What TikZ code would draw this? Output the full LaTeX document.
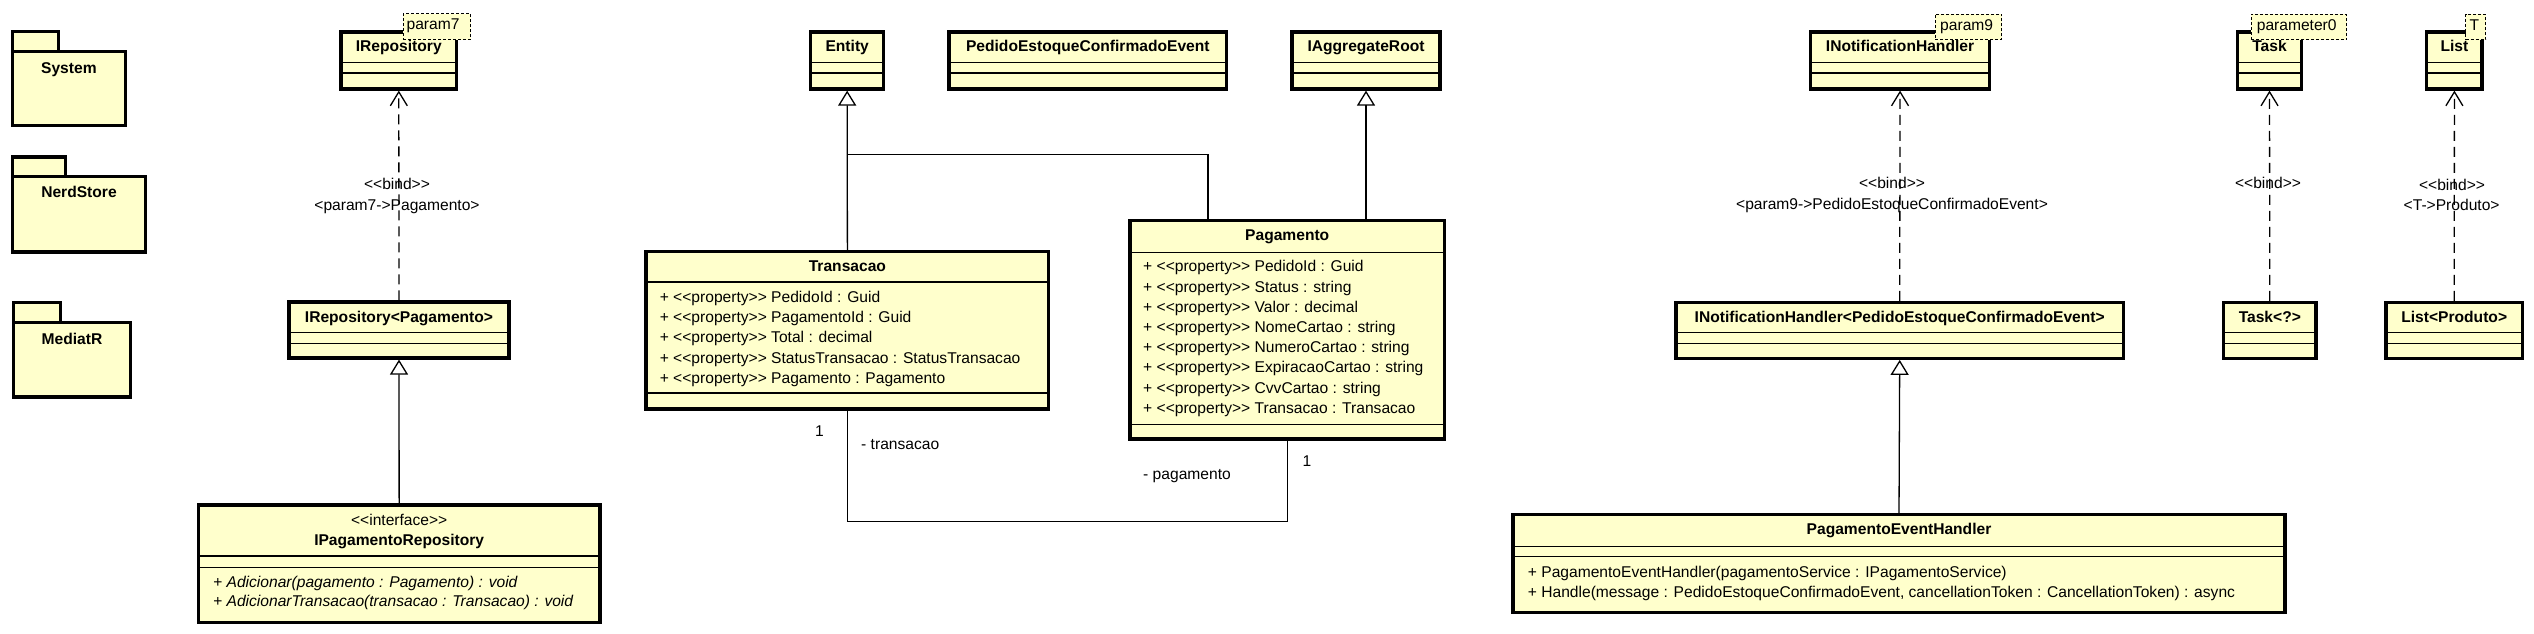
\documentclass[tikz,border=0pt]{standalone}
\usepackage{fontspec}
\setmainfont{Liberation Sans}[Ligatures=TeXOff]
\usetikzlibrary{arrows.meta}
\definecolor{umlfill}{HTML}{FFFFCC}
\newcommand\ucls[5]{%
  \pgfmathsetmacro\ucx{(#2+#4)/2}%
  \pgfmathsetmacro\ucy{(#3+#5)/2}%
  \pgfmathsetmacro\ucw{#4-#2}%
  \pgfmathsetmacro\uch{#5-#3}%
  \node[cbox, minimum width=\ucw pt, minimum height=\uch pt] (#1) at (\ucx,\ucy) {};%
}
\newcommand\usep[3]{\draw[sep] (#1,#3) -- (#2,#3);}
\begin{document}
\begin{tikzpicture}[x=1pt,y=-1pt,
  every node/.style={font=\fontsize{15.6}{18}\selectfont, inner sep=0pt},
  cbox/.style={draw, line width=3.2pt, fill=umlfill},
  sep/.style={line width=1.2pt},
  conn/.style={line width=1.3pt},
  gen/.style={conn, -{Triangle[length=15pt,width=18pt,fill=white,line width=1.3pt]}},
  bindarr/.style={conn, dash pattern=on 10pt off 6pt, -{Straight Barb[length=14pt,width=17pt,line width=1.3pt]}},
  cname/.style={font=\fontsize{15.6}{18}\selectfont\bfseries, anchor=mid},
  attr/.style={anchor=mid west},
  opit/.style={anchor=mid west, font=\fontsize{15.6}{18}\selectfont\itshape},
  lbl/.style={anchor=mid},
  pbox/.style={draw, dash pattern=on 3pt off 2pt, fill=umlfill, line width=1.1pt},
  pkg/.style={draw, line width=3.2pt, fill=umlfill},
]
\useasboundingbox (0,0) rectangle (2534,634);
\fill[white] (0,0) rectangle (2534,634);

% ---------- packages ----------
\draw[pkg] (12.6,31.5) rectangle (58.2,51.8);
\node[pkg, minimum width=112.5pt, minimum height=74pt] (System) at (68.85,88.8) {};
\node[cname] (SystemT) at (68.9,70.4) {System};
\draw[pkg] (12.6,157) rectangle (65.8,176.7);
\node[pkg, minimum width=132.8pt, minimum height=75.3pt] (NerdStore) at (79,214.35) {};
\node[cname] (NerdStoreT) at (79,195.3) {NerdStore};
\draw[pkg] (13.8,302.5) rectangle (60.5,322.7);
\node[pkg, minimum width=116.3pt, minimum height=74.3pt] (MediatR) at (71.95,359.85) {};
\node[cname] (MediatRT) at (72,341.7) {MediatR};

% ---------- repository column ----------
\ucls{IRepo}{341}{32}{456.6}{89}
\usep{341}{456.6}{62.5}\usep{341}{456.6}{73}
\node[cname] (IRepoT) at (398.8,49.3) {IRepository};
\node[pbox, minimum width=67.4pt, minimum height=25.9pt, anchor=north west] (p7) at (402.6,13.3) {};
\node[attr] (p7t) at (406.4,27.3) {param7};

\ucls{IRepoP}{289}{302}{509}{358}
\usep{289}{509}{332.5}\usep{289}{509}{343.5}
\node[cname] (IRepoPT) at (399,319.5) {IRepository<Pagamento>};

\ucls{IPRepo}{198.3}{505}{600}{622.7}
\usep{198.3}{600}{556}\usep{198.3}{600}{567.3}
\node[lbl] (IPRepoS) at (399.2,522.7) {<<interface>>};
\node[cname] (IPRepoT) at (399.2,543) {IPagamentoRepository};
\node[opit] (IPRepoO1) at (213,585) {+ Adicionar(pagamento : Pagamento) : void};
\node[opit] (IPRepoO2) at (213,604) {+ AdicionarTransacao(transacao : Transacao) : void};

\draw[bindarr] (IRepoP.north) -- (IRepo.south);
\node[lbl] (b1) at (397,186.4) {<<bind>>};
\node[lbl] (b1b) at (397,207.4) {<param7->Pagamento>};
\draw[gen] (IPRepo.north) -- (IRepoP.south);

% ---------- domain ----------
\ucls{Entity}{810.8}{32}{883.5}{89}
\usep{810.8}{883.5}{62.5}\usep{810.8}{883.5}{73}
\node[cname] (EntityT) at (847.2,49.3) {Entity};

\ucls{PECE}{949}{32}{1226.6}{89}
\usep{949}{1226.6}{62.5}\usep{949}{1226.6}{73}
\node[cname] (PECET) at (1087.8,49.3) {PedidoEstoqueConfirmadoEvent};

\ucls{IAgg}{1292}{32}{1440}{89}
\usep{1292}{1440}{62.5}\usep{1292}{1440}{73}
\node[cname] (IAggT) at (1366,49.3) {IAggregateRoot};

\ucls{Trans}{646}{251.7}{1048.8}{409}
\usep{646}{1048.8}{282}\usep{646}{1048.8}{393}
\node[cname] (TransT) at (847.4,268.7) {Transacao};
\node[attr] (TA1) at (659.6,299.5) {+ <<property>> PedidoId : Guid};
\node[attr] (TA2) at (659.6,319.8) {+ <<property>> PagamentoId : Guid};
\node[attr] (TA3) at (659.6,340.1) {+ <<property>> Total : decimal};
\node[attr] (TA4) at (659.6,360.4) {+ <<property>> StatusTransacao : StatusTransacao};
\node[attr] (TA5) at (659.6,380.7) {+ <<property>> Pagamento : Pagamento};

\ucls{Pag}{1130}{220.7}{1444.4}{439}
\usep{1130}{1444.4}{252.3}\usep{1130}{1444.4}{424.7}
\node[cname] (PagT) at (1287.2,238.3) {Pagamento};
\node[attr] (PA1) at (1143,269.3) {+ <<property>> PedidoId : Guid};
\node[attr] (PA2) at (1143,289.5) {+ <<property>> Status : string};
\node[attr] (PA3) at (1143,309.7) {+ <<property>> Valor : decimal};
\node[attr] (PA4) at (1143,329.9) {+ <<property>> NomeCartao : string};
\node[attr] (PA5) at (1143,350.1) {+ <<property>> NumeroCartao : string};
\node[attr] (PA6) at (1143,370.3) {+ <<property>> ExpiracaoCartao : string};
\node[attr] (PA7) at (1143,390.5) {+ <<property>> CvvCartao : string};
\node[attr] (PA8) at (1143,410.7) {+ <<property>> Transacao : Transacao};

\draw[gen] (Trans.north) -- (Entity.south);
\coordinate (ej) at (847.3,154.3);
\draw[conn] ([xshift=-79.2pt]Pag.north) |- (ej);
\draw[gen] (Pag.north -| IAgg.south) -- (IAgg.south);
\coordinate (aj) at (1287.2,521.7);
\draw[conn] (Trans.south) |- (aj) -- (Pag.south);
\node[lbl] (m1) at (819.5,434.3) {1};
\node[attr] (r1) at (861,446.7) {- transacao};
\node[attr] (r2) at (1143,476.7) {- pagamento};
\node[lbl] (m2) at (1307,464.3) {1};

% ---------- handler column ----------
\ucls{INH}{1810.7}{32}{1989.4}{89}
\usep{1810.7}{1989.4}{62.5}\usep{1810.7}{1989.4}{73}
\node[cname] (INHT) at (1900,49.3) {INotificationHandler};
\node[pbox, minimum width=66.6pt, minimum height=25.6pt, anchor=north west] (p9) at (1934.7,13.7) {};
\node[attr] (p9t) at (1940,27.5) {param9};

\ucls{INHP}{1676}{302.5}{2123.4}{358.3}
\usep{1676}{2123.4}{332.7}\usep{1676}{2123.4}{343.3}
\node[cname] (INHPT) at (1899.7,319.5) {INotificationHandler<PedidoEstoqueConfirmadoEvent>};

\ucls{PEH}{1513}{514.7}{2285}{612.7}
\usep{1513}{2285}{546.7}\usep{1513}{2285}{556.7}
\node[cname] (PEHT) at (1899,532.3) {PagamentoEventHandler};
\node[attr] (PEHO1) at (1527.7,575) {+ PagamentoEventHandler(pagamentoService : IPagamentoService)};
\node[attr] (PEHO2) at (1527.7,595) {+ Handle(message : PedidoEstoqueConfirmadoEvent, cancellationToken : CancellationToken) : async};

\draw[bindarr] (INHP.north) -- (INH.south);
\node[lbl] (b2) at (1892,186) {<<bind>>};
\node[lbl] (b2b) at (1892,207.3) {<param9->PedidoEstoqueConfirmadoEvent>};
\draw[gen] (PEH.north) -- (INHP.south);

% ---------- Task / List ----------
\ucls{Task}{2237.5}{32}{2301.5}{89}
\usep{2237.5}{2301.5}{62.5}\usep{2237.5}{2301.5}{73}
\node[cname] (TaskT) at (2269.5,49.3) {Task};
\node[pbox, minimum width=95.7pt, minimum height=25.6pt, anchor=north west] (p0) at (2250.6,13.7) {};
\node[attr] (p0t) at (2256.6,27.5) {parameter0};

\ucls{TaskQ}{2223.6}{302.5}{2316}{358.3}
\usep{2223.6}{2316}{332.7}\usep{2223.6}{2316}{343.3}
\node[cname] (TaskQT) at (2269.8,319.5) {Task<?>};
\draw[bindarr] (TaskQ.north) -- (Task.south);
\node[lbl] (b3) at (2268,186) {<<bind>>};

\ucls{List}{2426.8}{32}{2482}{89}
\usep{2426.8}{2482}{62.5}\usep{2426.8}{2482}{73}
\node[cname] (ListT) at (2454.4,49.3) {List};
\node[pbox, minimum width=20pt, minimum height=25.6pt, anchor=north west] (pT) at (2465,13.7) {};
\node[attr] (pTt) at (2469.3,27.5) {T};

\ucls{ListP}{2386}{302.5}{2522.4}{358.3}
\usep{2386}{2522.4}{332.7}\usep{2386}{2522.4}{343.3}
\node[cname] (ListPT) at (2454.2,319.5) {List<Produto>};
\draw[bindarr] (ListP.north) -- (List.south);
\node[lbl] (b4) at (2452,187.7) {<<bind>>};
\node[lbl] (b4b) at (2451.6,207.7) {<T->Produto>};
\end{tikzpicture}
\end{document}
